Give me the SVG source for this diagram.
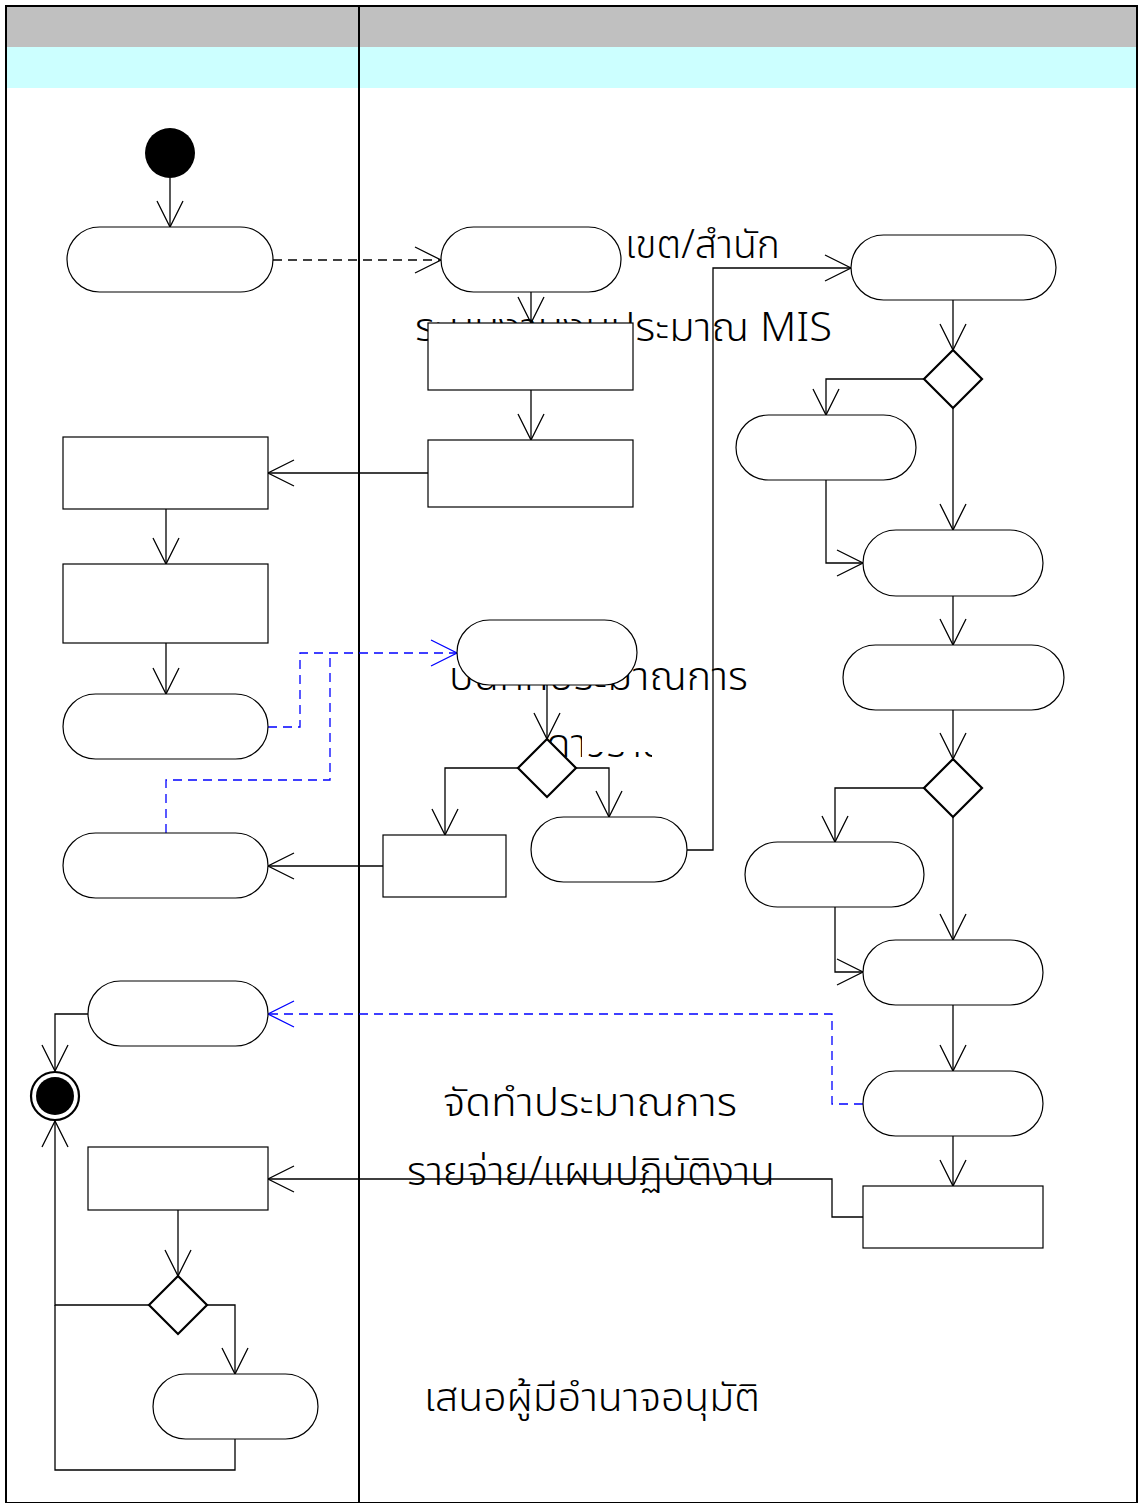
<svg xmlns="http://www.w3.org/2000/svg" width="1138" height="1503" viewBox="0 0 1138 1503">
  <style>
    .lbl { font-family: "Noto Sans Thai", "Noto Sans", "DejaVu Sans", sans-serif; font-size: 40px; font-weight: 300; fill: #000; }
    .act { fill: #fff; stroke: #000; stroke-width: 1.2; }
    .dec { fill: #fff; stroke: #000; stroke-width: 2.2; }
    .flow { fill: none; stroke: #000; stroke-width: 1.3; }
    .dash { fill: none; stroke: #000; stroke-width: 1.3; stroke-dasharray: 9 6; }
    .obj { fill: none; stroke: #0000ff; stroke-width: 1.3; stroke-dasharray: 9 6; }
  </style>
  <defs>
    <marker id="open" markerUnits="userSpaceOnUse" viewBox="-28 -15 30 30" markerWidth="30" markerHeight="30" refX="0" refY="0" orient="auto">
      <path d="M-26,-13 L0,0 L-26,13" fill="none" stroke="#000" stroke-width="1.3"/>
    </marker>
    <marker id="openBlue" markerUnits="userSpaceOnUse" viewBox="-28 -15 30 30" markerWidth="30" markerHeight="30" refX="0" refY="0" orient="auto">
      <path d="M-26,-13 L0,0 L-26,13" fill="none" stroke="#0000ff" stroke-width="1.3"/>
    </marker>
    <clipPath id="clipNote">
      <rect x="540" y="734" width="42" height="26"/>
      <rect x="586" y="752" width="66" height="8"/>
    </clipPath>
  </defs>

  <!-- swimlane frame -->
  <g id="lanes">
    <rect x="6" y="6" width="1131" height="1497" fill="#fff"/>
    <rect x="6" y="6" width="1131" height="41" fill="#c0c0c0"/>
    <rect x="6" y="47" width="1131" height="41" fill="#ccffff"/>
    <rect x="6" y="6" width="1131" height="1497" fill="none" stroke="#000" stroke-width="2"/>
    <line x1="359" y1="6" x2="359" y2="1503" stroke="#000" stroke-width="2"/>
  </g>

  <!-- free-standing labels (lie beneath the nodes) -->
  <g id="labels">
    <text class="lbl" x="472" y="258" textLength="140" lengthAdjust="spacingAndGlyphs">จัดสรร</text>
    <text class="lbl" x="625" y="258" textLength="155" lengthAdjust="spacingAndGlyphs">เขต/สำนัก</text>
    <text class="lbl" x="415" y="341" textLength="417" lengthAdjust="spacingAndGlyphs">ระบบงานงบประมาณ MIS</text>
    <text class="lbl" x="449" y="690" textLength="299" lengthAdjust="spacingAndGlyphs">บันทึกประมาณการ</text>
    <text class="lbl" x="546" y="757" clip-path="url(#clipNote)">ดาวรายการ</text>
    <text class="lbl" x="443" y="1116" textLength="294" lengthAdjust="spacingAndGlyphs">จัดทำประมาณการ</text>
    <text class="lbl" x="407" y="1185" textLength="368" lengthAdjust="spacingAndGlyphs">รายจ่าย/แผนปฏิบัติงาน</text>
    <text class="lbl" x="424" y="1411" textLength="336" lengthAdjust="spacingAndGlyphs">เสนอผู้มีอำนาจอนุมัติ</text>
  </g>

  <!-- connectors -->
  <g id="connectors">
    <path class="flow" d="M170,178 V227" marker-end="url(#open)"/>
    <path class="dash" d="M273,260 H441" marker-end="url(#open)"/>
    <path class="flow" d="M531,292 V323" marker-end="url(#open)"/>
    <path class="flow" d="M531,390 V440" marker-end="url(#open)"/>
    <path class="flow" d="M428,473 H268" marker-end="url(#open)"/>
    <path class="flow" d="M166,509 V564" marker-end="url(#open)"/>
    <path class="flow" d="M166,643 V694" marker-end="url(#open)"/>
    <path class="obj" d="M268,727 H300 V653 H457" marker-end="url(#openBlue)"/>
    <path class="obj" d="M166,833 V780 H330 V653"/>
    <path class="flow" d="M547,685 V739" marker-end="url(#open)"/>
    <path class="flow" d="M518,768 H445 V835" marker-end="url(#open)"/>
    <path class="flow" d="M576,768 H609 V817" marker-end="url(#open)"/>
    <path class="flow" d="M383,866 H268" marker-end="url(#open)"/>
    <path class="flow" d="M687,850 H713 V268 H851" marker-end="url(#open)"/>
    <path class="flow" d="M953,300 V350" marker-end="url(#open)"/>
    <path class="flow" d="M924,379 H826 V415" marker-end="url(#open)"/>
    <path class="flow" d="M953,408 V530" marker-end="url(#open)"/>
    <path class="flow" d="M826,480 V563 H863" marker-end="url(#open)"/>
    <path class="flow" d="M953,596 V645" marker-end="url(#open)"/>
    <path class="flow" d="M953,710 V759" marker-end="url(#open)"/>
    <path class="flow" d="M924,788 H835 V842" marker-end="url(#open)"/>
    <path class="flow" d="M953,817 V940" marker-end="url(#open)"/>
    <path class="flow" d="M835,907 V972 H863" marker-end="url(#open)"/>
    <path class="flow" d="M953,1005 V1071" marker-end="url(#open)"/>
    <path class="obj" d="M863,1104 H832 V1014 H268" marker-end="url(#openBlue)"/>
    <path class="flow" d="M953,1136 V1186" marker-end="url(#open)"/>
    <path class="flow" d="M863,1217 H832 V1179 H268" marker-end="url(#open)"/>
    <path class="flow" d="M88,1014 H55 V1071" marker-end="url(#open)"/>
    <path class="flow" d="M178,1210 V1276" marker-end="url(#open)"/>
    <path class="flow" d="M149,1305 H55 V1121" marker-end="url(#open)"/>
    <path class="flow" d="M207,1305 H235 V1374" marker-end="url(#open)"/>
    <path class="flow" d="M235,1439 V1470 H55 V1305"/>
  </g>

  <!-- left lane -->
  <g id="start"><circle cx="170" cy="153" r="25" fill="#000"/></g>
  <g id="l-act1"><rect class="act" x="67" y="227" width="206" height="65" rx="32.5"/></g>
  <g id="l-act2"><rect class="act" x="63" y="437" width="205" height="72"/></g>
  <g id="l-act3"><rect class="act" x="63" y="564" width="205" height="79"/></g>
  <g id="l-act4"><rect class="act" x="63" y="694" width="205" height="65" rx="32.5"/></g>
  <g id="l-act5"><rect class="act" x="63" y="833" width="205" height="65" rx="32.5"/></g>
  <g id="l-act6"><rect class="act" x="88" y="981" width="180" height="65" rx="32.5"/></g>
  <g id="end">
    <circle cx="55" cy="1096" r="24" fill="#fff" stroke="#000" stroke-width="2.2"/>
    <circle cx="55" cy="1096" r="19" fill="#000"/>
  </g>
  <g id="l-act7"><rect class="act" x="88" y="1147" width="180" height="63"/></g>
  <g id="l-dec1"><path class="dec" d="M178,1276 L207,1305 L178,1334 L149,1305 Z"/></g>
  <g id="l-act8"><rect class="act" x="153" y="1374" width="165" height="65" rx="32.5"/></g>

  <!-- right lane, middle column -->
  <g id="r-act1"><rect class="act" x="441" y="227" width="180" height="65" rx="32.5"/></g>
  <g id="r-act2"><rect class="act" x="428" y="323" width="205" height="67"/></g>
  <g id="r-act3"><rect class="act" x="428" y="440" width="205" height="67"/></g>
  <g id="r-act4"><rect class="act" x="457" y="620" width="180" height="65" rx="32.5"/></g>
  <g id="r-dec1"><path class="dec" d="M547,739 L576,768 L547,797 L518,768 Z"/></g>
  <g id="r-act5"><rect class="act" x="383" y="835" width="123" height="62"/></g>
  <g id="r-act6"><rect class="act" x="531" y="817" width="156" height="65" rx="32.5"/></g>

  <!-- right lane, right column -->
  <g id="r-act7"><rect class="act" x="851" y="235" width="205" height="65" rx="32.5"/></g>
  <g id="r-dec2"><path class="dec" d="M953,350 L982,379 L953,408 L924,379 Z"/></g>
  <g id="r-act8"><rect class="act" x="736" y="415" width="180" height="65" rx="32.5"/></g>
  <g id="r-act9"><rect class="act" x="863" y="530" width="180" height="66" rx="33"/></g>
  <g id="r-act10"><rect class="act" x="843" y="645" width="221" height="65" rx="32.5"/></g>
  <g id="r-dec3"><path class="dec" d="M953,759 L982,788 L953,817 L924,788 Z"/></g>
  <g id="r-act11"><rect class="act" x="745" y="842" width="179" height="65" rx="32.5"/></g>
  <g id="r-act12"><rect class="act" x="863" y="940" width="180" height="65" rx="32.5"/></g>
  <g id="r-act13"><rect class="act" x="863" y="1071" width="180" height="65" rx="32.5"/></g>
  <g id="r-act14"><rect class="act" x="863" y="1186" width="180" height="62"/></g>
</svg>
